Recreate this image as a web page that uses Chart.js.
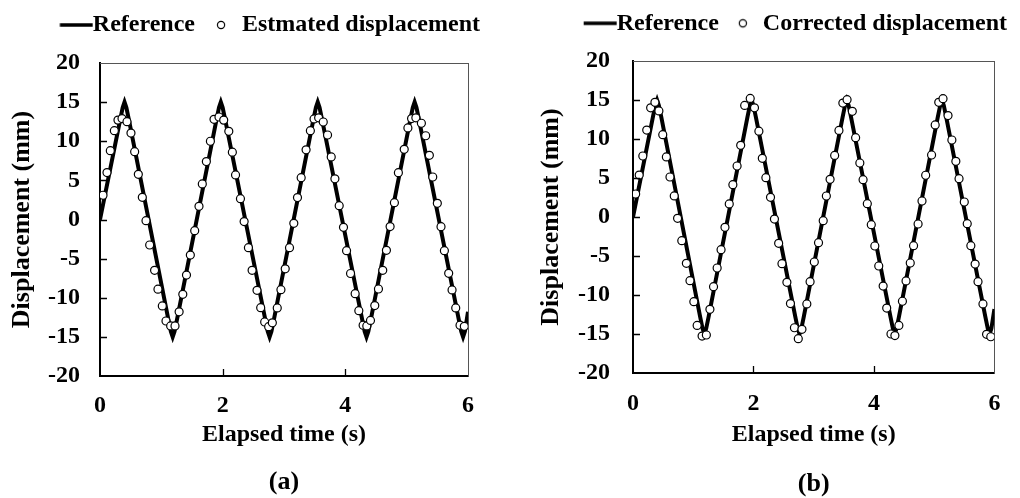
<!DOCTYPE html>
<html><head><meta charset="utf-8">
<script src="https://cdn.jsdelivr.net/npm/chart.js@4.4.1/dist/chart.umd.min.js"></script>
<style>
html,body{margin:0;padding:0;background:#fff;overflow:hidden;width:1020px;height:498px;}
canvas{position:absolute;top:0;}
#ca{left:0;}
#cb{left:520px;}
</style></head><body>
<canvas id="ca" width="490" height="498" style="width:490px;height:498px"></canvas>
<canvas id="cb" width="497" height="498" style="width:497px;height:498px"></canvas>
<script>
// ---- data ----
const refTime = [0, 0.33,0.37,0.40,0.43,0.47, 1.115,1.155,1.185,1.215,1.255, 1.90,1.94,1.97,2.00,2.04,
  2.695,2.735,2.765,2.795,2.835, 3.48,3.52,3.55,3.58,3.62, 4.275,4.315,4.345,4.375,4.415,
  5.06,5.10,5.13,5.16,5.20, 5.85,5.89,5.92,5.95,6.00];
const refDisp = [0, 12.8,14.3,15,14.3,12.8, -12.8,-14.3,-15,-14.3,-12.8, 12.8,14.3,15,14.3,12.8,
  -12.8,-14.3,-15,-14.3,-12.8, 12.8,14.3,15,14.3,12.8, -12.8,-14.3,-15,-14.3,-12.8,
  12.8,14.3,15,14.3,12.8, -12.8,-14.3,-15,-14.3,-11.8];

const estTime = [0.049,0.114,0.168,0.234,0.293,0.359,0.44,0.505,0.565,0.625,0.69,0.75,0.81,0.89,0.945,1.016,1.076,1.152,1.223,
  1.29,1.35,1.41,1.473,1.544,1.614,1.668,1.734,1.80,1.859,1.94,2.017,2.10,2.158,2.21,2.29,2.35,2.42,2.48,2.56,2.62,2.685,2.75,
  2.81,2.89,2.95,3.02,3.09,3.16,3.22,3.28,3.36,3.43,3.49,3.565,3.64,3.71,3.77,3.83,3.90,3.97,4.02,4.085,4.16,4.22,4.29,4.35,
  4.41,4.48,4.54,4.61,4.67,4.73,4.80,4.865,4.96,5.02,5.08,5.15,5.24,5.31,5.37,5.425,5.50,5.56,5.615,5.685,5.74,5.80,5.87,5.94];
const estDisp = [3.1,6.0,8.8,11.35,12.7,12.9,12.5,11.05,8.67,5.77,2.83,-0.15,-3.26,-6.5,-8.9,-11.05,-12.97,-13.6,-13.6,
  -11.8,-9.56,-7.1,-4.54,-1.43,1.68,4.54,7.4,10.0,12.8,13.1,12.7,11.27,8.6,5.7,2.66,-0.27,-3.6,-6.5,-9.05,-11.27,-13.1,-13.7,
  -13.2,-11.3,-8.97,-6.3,-3.6,-0.49,2.8,5.35,8.9,11.35,12.85,13.0,12.46,10.8,8.0,5.2,1.77,-1.0,-3.98,-6.9,-9.48,-11.65,-13.5,-13.6,
  -12.9,-11.0,-8.88,-6.5,-3.94,-0.9,2.15,5.98,8.97,11.7,12.9,13.0,12.3,10.7,8.2,5.43,2.07,-0.92,-3.98,-6.88,-9.0,-11.3,-13.5,-13.65];

const corTime = [0.044,0.103,0.163,0.228,0.293,0.364,0.43,0.494,0.554,0.614,0.685,0.74,0.81,0.886,0.946,1.01,1.065,1.147,1.218,
  1.277,1.337,1.397,1.462,1.527,1.598,1.658,1.728,1.788,1.854,1.946,2.017,2.09,2.147,2.206,2.283,2.348,2.418,2.473,2.555,2.614,
  2.68,2.744,2.805,2.886,2.94,3.01,3.08,3.158,3.21,3.272,3.348,3.419,3.484,3.554,3.641,3.696,3.766,3.82,3.89,3.956,4.015,4.08,
  4.153,4.212,4.283,4.348,4.414,4.473,4.533,4.603,4.658,4.733,4.798,4.859,4.957,5.017,5.076,5.147,5.23,5.294,5.36,5.413,5.5,
  5.549,5.609,5.68,5.728,5.81,5.87,5.94];
const corDisp = [2.95,5.38,7.82,11.15,14.0,14.7,13.6,10.55,7.7,5.13,2.7,-0.17,-3.03,-5.94,-8.16,-10.85,-13.9,-15.26,-15.13,
  -11.84,-8.93,-6.54,-4.19,-1.32,1.67,4.15,6.54,9.19,14.3,15.2,14.0,11.0,7.52,5.04,2.52,-0.26,-3.38,-5.98,-8.38,-11.1,
  -14.2,-15.6,-14.4,-11.15,-8.29,-5.77,-3.29,-0.47,2.69,4.83,7.9,11.1,14.6,15.04,13.55,10.17,6.92,4.79,1.71,-0.98,-3.72,-6.28,
  -8.85,-11.67,-15.0,-15.2,-13.9,-10.8,-8.2,-5.9,-3.68,-0.9,2.05,5.35,7.95,11.8,14.7,15.17,13.0,9.87,7.14,4.91,1.92,
  -0.86,-3.68,-6.03,-8.29,-11.15,-15.04,-15.35];

const xTickValues = [0, 2, 4, 6];
const xTickLabels = ['0', '2', '4', '6'];
const yTickValues = [-20, -15, -10, -5, 0, 5, 10, 15, 20];
const yTickLabels = ['-20', '-15', '-10', '-5', '0', '5', '10', '15', '20'];

// ---- drawing ----
const FONT = "'Liberation Serif', 'Times New Roman', serif";
const pts = (xs, ys) => xs.map((x, i) => ({x: x, y: ys[i]}));

function lineImg(w, x0, x1) {
  const c = document.createElement('canvas'); c.width = w; c.height = 8;
  const g = c.getContext('2d'); g.strokeStyle = '#000'; g.lineWidth = 3.5;
  g.beginPath(); g.moveTo(x0, 4); g.lineTo(x1, 4); g.stroke(); return c;
}
function circImg(w, cx) {
  const c = document.createElement('canvas'); c.width = w; c.height = 12;
  const g = c.getContext('2d'); g.beginPath(); g.arc(cx, 6, 3.6, 0, 2 * Math.PI);
  g.fillStyle = '#fff'; g.fill(); g.lineWidth = 1.2; g.strokeStyle = '#000'; g.stroke(); return c;
}

const insideTicks = {
  id: 'insideTicks',
  afterDraw(chart) {
    const {ctx, chartArea: a, scales} = chart;
    ctx.save(); ctx.strokeStyle = '#000'; ctx.lineWidth = 1.3; ctx.beginPath();
    xTickValues.slice(1, -1).forEach(v => {
      const px = Math.round(scales.x.getPixelForValue(v)) + 0.5;
      ctx.moveTo(px, a.bottom); ctx.lineTo(px, a.bottom - 7);
    });
    yTickValues.slice(1, -1).forEach(v => {
      const py = Math.round(scales.y.getPixelForValue(v)) + 0.5;
      ctx.moveTo(a.left, py); ctx.lineTo(a.left + 7, py);
    });
    ctx.stroke(); ctx.restore();
  }
};

function makeChart(id, P) {
  const items = [
    {text: 'Reference', pointStyle: P.lineImg, fillStyle: '#000', strokeStyle: '#000', lineWidth: 0, hidden: false, datasetIndex: 0, fontColor: '#000'},
    {text: P.label, pointStyle: P.circImg, fillStyle: '#fff', strokeStyle: '#000', lineWidth: 0, hidden: false, datasetIndex: 1, fontColor: '#000'}
  ];
  const tickFont = {family: FONT, size: 24, weight: 'bold'};
  return new Chart(document.getElementById(id), {
    type: 'scatter',
    data: {
      datasets: [
        {label: 'Reference', data: pts(refTime, refDisp), showLine: true, borderColor: '#000', borderWidth: 4,
         pointRadius: 0, pointHoverRadius: 0, tension: 0, fill: false, order: 2, xAxisID: 'x', yAxisID: 'y'},
        {label: P.label, data: pts(P.xs, P.ys), showLine: false, pointStyle: 'circle', pointRadius: 4,
         pointBorderWidth: 1.2, pointBackgroundColor: '#fff', pointBorderColor: '#000', order: 1, xAxisID: 'x', yAxisID: 'y'}
      ]
    },
    options: {
      responsive: false, animation: false, devicePixelRatio: 1, events: [],
      layout: {padding: {top: P.padTop, left: 0, right: 0, bottom: 0}},
      plugins: {
        legend: {display: true, position: 'top', align: 'end',
          labels: {usePointStyle: true, pointStyleWidth: P.bw, padding: 10, color: '#000',
            font: {family: FONT, size: 24, weight: 'bold'}, generateLabels: () => items}},
        title: {display: true, position: 'bottom', fullSize: false, text: P.caption, color: '#000',
          font: {family: FONT, size: 26, weight: 'bold', lineHeight: 1}, padding: {top: 0, bottom: P.capPad}},
        tooltip: {enabled: false}
      },
      scales: {
        x: {type: 'linear', position: 'bottom', min: 0, max: 6,
          afterBuildTicks: s => { s.ticks = xTickValues.map(v => ({value: v})); },
          grid: {display: false, drawTicks: false, tickLength: 0},
          border: {display: true, color: '#000', width: 2},
          ticks: {padding: P.xTickPad, color: '#000', font: tickFont, maxRotation: 0, autoSkip: false,
            callback: v => xTickLabels[xTickValues.indexOf(v)]},
          title: {display: true, text: 'Elapsed time (s)', color: '#000',
            font: {family: FONT, size: 24, weight: 'bold'}, padding: {top: 0, bottom: P.xTitlePad}},
          afterFit: s => { s.height = P.xAxisH; }
        },
        y: {type: 'linear', position: 'left', min: -20, max: 20,
          afterBuildTicks: s => { s.ticks = yTickValues.map(v => ({value: v})); },
          grid: {display: false, drawTicks: false, tickLength: 0},
          border: {display: true, color: '#000', width: 2},
          ticks: {padding: P.yTickPad, color: '#000', font: tickFont, autoSkip: false,
            callback: v => yTickLabels[yTickValues.indexOf(v)]},
          title: {display: true, text: 'Displacement (mm)', color: '#000',
            font: {family: FONT, size: 26, weight: 'bold'}, padding: {top: P.yTitlePad, bottom: 0}},
          afterFit: s => { s.width = P.yAxisW; }
        },
        xTop: {type: 'linear', position: 'top', min: 0, max: 6,
          grid: {display: false, drawTicks: false, tickLength: 0}, ticks: {display: false},
          border: {display: true, color: '#555', width: 1},
          afterFit: s => { s.height = P.topGap; }
        },
        yRight: {type: 'linear', position: 'right', min: -20, max: 20,
          grid: {display: false, drawTicks: false, tickLength: 0}, ticks: {display: false},
          border: {display: true, color: '#555', width: 1},
          afterFit: s => { s.width = P.rightGap; }
        }
      }
    },
    plugins: [insideTicks]
  });
}

makeChart('ca', {
  label: 'Estmated displacement', caption: '(a)', xs: estTime, ys: estDisp,
  bw: 25, lineImg: lineImg(50, 16.5, 49.5), circImg: circImg(17, 12),
  padTop: 3, topGap: 16, yAxisW: 100, rightGap: 22, xAxisH: 93.5, capPad: 2.5,
  xTickPad: 15, yTickPad: 20, xTitlePad: 20, yTitlePad: 7
});
makeChart('cb', {
  label: 'Corrected displacement', caption: '(b)', xs: corTime, ys: corDisp,
  bw: 22, lineImg: lineImg(48, 14, 47), circImg: circImg(16, 11),
  padTop: 1.3, topGap: 15.7, yAxisW: 113, rightGap: 16, xAxisH: 98, capPad: 1,
  xTickPad: 16.6, yTickPad: 23, xTitlePad: 22, yTitlePad: 16
});
</script>
</body></html>
